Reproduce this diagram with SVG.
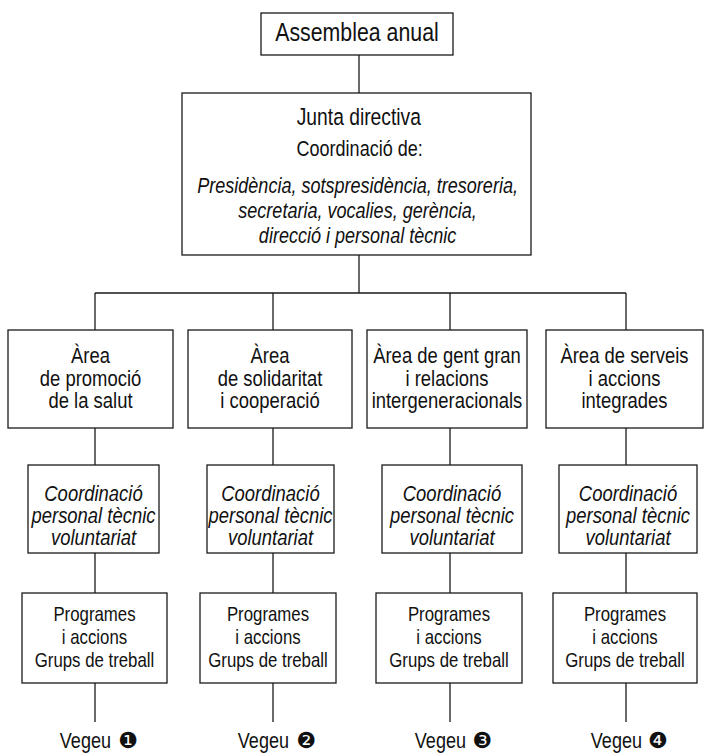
<svg xmlns="http://www.w3.org/2000/svg" width="706" height="753" viewBox="0 0 706 753">
<style>
.box{fill:#fff;stroke:#1a1a1a;stroke-width:1.3}
.ln{stroke:#1a1a1a;stroke-width:1.3;fill:none}
text{font-family:"Liberation Sans",Arial,sans-serif;fill:#111;text-anchor:middle}
.it{font-style:italic}
.a{font-size:22.5px}
.c{font-size:21.5px;font-style:italic}
.p{font-size:20.5px}
.v{font-size:22px;text-anchor:end}
.d{font-family:"DejaVu Sans",sans-serif;font-size:22px}
</style>
<rect width="706" height="753" fill="#fff"/>
<g id="connectors">
<path class="ln" d="M359 55V93M359 255V293M95 293H626M95 293V330M273 293V330M450 293V330M626 293V330"/>
<path class="ln" d="M95 428V465M95 553V593M95 683V722"/>
<path class="ln" d="M273 428V465M273 553V593M273 683V722"/>
<path class="ln" d="M450 428V465M450 553V593M450 683V722"/>
<path class="ln" d="M626 428V465M626 553V593M626 683V722"/>
</g>
<g id="assemblea">
<rect class="box" x="261" y="13" width="192" height="42"/>
<text x="357" y="41" style="font-size:26px" transform="translate(357 0) scale(0.82 1) translate(-357 0)">Assemblea anual</text>
</g>
<g id="junta">
<rect class="box" x="182" y="93" width="349" height="162"/>
<g transform="translate(358 0) scale(0.82 1) translate(-358 0)">
<text x="359" y="125" style="font-size:23.5px">Junta directiva</text>
<text x="360" y="156.5" style="font-size:22px">Coordinació de:</text>
<text x="357.5" y="193" class="it" style="font-size:22px">Presidència, sotspresidència, tresoreria,</text>
<text x="357.5" y="218" class="it" style="font-size:22px">secretaria, vocalies, gerència,</text>
<text x="357.5" y="243" class="it" style="font-size:22px">direcció i personal tècnic</text>
</g>
</g>
<g id="area1">
<rect class="box" x="8" y="330" width="165" height="98"/>
<text class="a" transform="translate(90.5 0) scale(0.82 1) translate(-90.5 0)"><tspan x="90.5" y="363.5">Àrea</tspan><tspan x="90.5" y="386">de promoció</tspan><tspan x="90.5" y="408.5">de la salut</tspan></text>
</g>
<g id="area2">
<rect class="box" x="188" y="330" width="164" height="98"/>
<text class="a" transform="translate(270 0) scale(0.82 1) translate(-270 0)"><tspan x="270" y="363.5">Àrea</tspan><tspan x="270" y="386">de solidaritat</tspan><tspan x="270" y="408.5">i cooperació</tspan></text>
</g>
<g id="area3">
<rect class="box" x="367" y="330" width="160" height="98"/>
<text class="a" transform="translate(447 0) scale(0.82 1) translate(-447 0)"><tspan x="447" y="363.5">Àrea de gent gran</tspan><tspan x="447" y="386">i relacions</tspan><tspan x="447" y="408.5">intergeneracionals</tspan></text>
</g>
<g id="area4">
<rect class="box" x="546" y="330" width="157" height="98"/>
<text class="a" transform="translate(624.5 0) scale(0.82 1) translate(-624.5 0)"><tspan x="624.5" y="363.5">Àrea de serveis</tspan><tspan x="624.5" y="386">i accions</tspan><tspan x="624.5" y="408.5">integrades</tspan></text>
</g>
<g id="coord1">
<rect class="box" x="28" y="465" width="131" height="88"/>
<text class="c" transform="translate(93.5 0) scale(0.858 1) translate(-93.5 0)"><tspan x="93.5" y="501">Coordinació</tspan><tspan x="93.5" y="523">personal tècnic</tspan><tspan x="93.5" y="545">voluntariat</tspan></text>
</g>
<g id="coord2">
<rect class="box" x="207" y="465" width="127" height="88"/>
<text class="c" transform="translate(270.5 0) scale(0.858 1) translate(-270.5 0)"><tspan x="270.5" y="501">Coordinació</tspan><tspan x="270.5" y="523">personal tècnic</tspan><tspan x="270.5" y="545">voluntariat</tspan></text>
</g>
<g id="coord3">
<rect class="box" x="382" y="465" width="140" height="88"/>
<text class="c" transform="translate(452 0) scale(0.858 1) translate(-452 0)"><tspan x="452" y="501">Coordinació</tspan><tspan x="452" y="523">personal tècnic</tspan><tspan x="452" y="545">voluntariat</tspan></text>
</g>
<g id="coord4">
<rect class="box" x="559" y="465" width="138" height="88"/>
<text class="c" transform="translate(628 0) scale(0.858 1) translate(-628 0)"><tspan x="628" y="501">Coordinació</tspan><tspan x="628" y="523">personal tècnic</tspan><tspan x="628" y="545">voluntariat</tspan></text>
</g>
<g id="prog1">
<rect class="box" x="22" y="593" width="145" height="90"/>
<text class="p" transform="translate(94.5 0) scale(0.82 1) translate(-94.5 0)"><tspan x="94.5" y="621">Programes</tspan><tspan x="94.5" y="644">i accions</tspan><tspan x="94.5" y="667">Grups de treball</tspan></text>
</g>
<g id="prog2">
<rect class="box" x="200" y="593" width="136" height="90"/>
<text class="p" transform="translate(268 0) scale(0.82 1) translate(-268 0)"><tspan x="268" y="621">Programes</tspan><tspan x="268" y="644">i accions</tspan><tspan x="268" y="667">Grups de treball</tspan></text>
</g>
<g id="prog3">
<rect class="box" x="376" y="593" width="146" height="90"/>
<text class="p" transform="translate(449 0) scale(0.82 1) translate(-449 0)"><tspan x="449" y="621">Programes</tspan><tspan x="449" y="644">i accions</tspan><tspan x="449" y="667">Grups de treball</tspan></text>
</g>
<g id="prog4">
<rect class="box" x="553" y="593" width="144" height="90"/>
<text class="p" transform="translate(625 0) scale(0.82 1) translate(-625 0)"><tspan x="625" y="621">Programes</tspan><tspan x="625" y="644">i accions</tspan><tspan x="625" y="667">Grups de treball</tspan></text>
</g>
<g id="vegeu">
<text class="v" x="111" y="748" transform="translate(111 0) scale(0.82 1) translate(-111 0)">Vegeu</text>
<text class="d" x="128" y="748">❶</text>
<text class="v" x="289" y="748" transform="translate(289 0) scale(0.82 1) translate(-289 0)">Vegeu</text>
<text class="d" x="306" y="748">❷</text>
<text class="v" x="466" y="748" transform="translate(466 0) scale(0.82 1) translate(-466 0)">Vegeu</text>
<text class="d" x="482" y="748">❸</text>
<text class="v" x="642" y="748" transform="translate(642 0) scale(0.82 1) translate(-642 0)">Vegeu</text>
<text class="d" x="658" y="748">❹</text>
</g>
</svg>
